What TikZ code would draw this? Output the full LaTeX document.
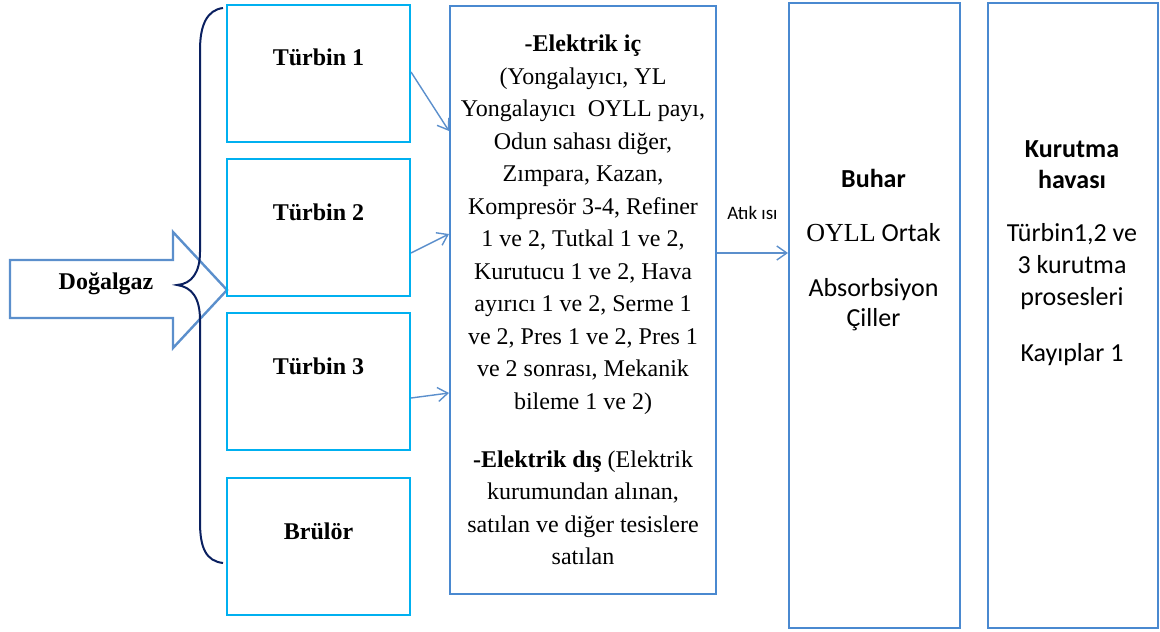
\documentclass[tikz,border=0pt]{standalone}
\usepackage{fontspec}
\setmainfont{Liberation Serif}
\setsansfont{Carlito}
\usepackage{tikz}
\usetikzlibrary{positioning,arrows.meta}
\definecolor{turcolor}{HTML}{00B0F0}
\definecolor{boxcolor}{HTML}{4A89D0}
\definecolor{flowcolor}{HTML}{5B8FCC}
\definecolor{bracecolor}{HTML}{0A2060}

\begin{document}
\begin{tikzpicture}[x=0.5pt, y=-0.5pt,
			>={Straight Barb[length=5pt,width=7pt]},
			turbine/.style={rectangle, draw=turcolor, line width=1pt, minimum width=91.5pt, minimum height=68.5pt, inner sep=0pt, text height=30.5pt, text depth=38pt, font=\bfseries\fontsize{12}{14}\selectfont},
			tallbox/.style={rectangle, draw=boxcolor, line width=1pt, inner sep=0pt, anchor=north west},
			boxtext/.style={anchor=north, inner sep=0pt, align=center, font=\sffamily\fontsize{13}{16}\selectfont},
			flow/.style={->, draw=flowcolor, line width=0.7pt}
		]
		\useasboundingbox (0,0) rectangle (1160,631);

		% dogalgaz arrow
		\draw[flowcolor, line width=1.2pt] (10,260) -- (173,260) -- (173,232) -- (227,290) -- (173,348) -- (173,318) -- (10,318) -- cycle;
		\node[font=\bfseries\fontsize{12}{14}\selectfont] (gaz) at (106,284) {Doğalgaz};

		% brace
		\draw[bracecolor, line width=1pt] (223,8) .. controls (207,10) and (200,25) .. (200,50) -- (200,252) .. controls (200,272) and (192,284) .. (177,285) .. controls (192,287) and (200,298) .. (200,320) -- (200,522) .. controls (200,548) and (206,561) .. (223,563);

		\node[turbine] (t1) at (318.5,73.5) {Türbin 1};
		\node[turbine] (t2) [below=7.5pt of t1] {Türbin 2};
		\node[turbine] (t3) [below=7.5pt of t2] {Türbin 3};
		\node[turbine] (t4) [below=13pt of t3] {Brülör};

		\node[tallbox, minimum width=133pt, minimum height=294pt, align=center, font=\fontsize{12}{16.25}\selectfont] (elec) at (449,5) {\textbf{-Elektrik iç}\\
			(Yongalayıcı, YL\\
			Yongalayıcı\ \ OYLL payı,\\
			Odun sahası diğer,\\
			Zımpara, Kazan,\\
			Kompresör 3-4, Refiner\\
			1 ve 2, Tutkal 1 ve 2,\\
			Kurutucu 1 ve 2, Hava\\
			ayırıcı 1 ve 2, Serme 1\\
			ve 2, Pres 1 ve 2, Pres 1\\
			ve 2 sonrası, Mekanik\\
			bileme 1 ve 2)\\[12.75pt]
			\textbf{-Elektrik dış} (Elektrik\\
			kurumundan alınan,\\
			satılan ve diğer tesislere\\
			satılan};

		\node[tallbox, minimum width=85.5pt, minimum height=312.5pt] (buhar) at (788,2) {};
		\node[tallbox, minimum width=85pt, minimum height=312.5pt] (kurutma) at (987,2) {};
		\node[boxtext] (buhartxt) at (873.5,168.5) {\textbf{Buhar}\\[11pt]{\rmfamily OYLL} Ortak\\[11.5pt]Absorbsiyon\\[-1pt]Çiller};
		\node[boxtext] (kurutmatxt) at (1072,140) {\textbf{Kurutma}\\[-0.5pt]\textbf{havası}\\[10.5pt]Türbin1,2 ve\\3 kurutma\\prosesleri\\[12pt]Kayıplar 1};

		\draw[flow] ([yshift=0.75pt]t1.east) -- ([yshift=84.5pt]elec.west);
		\draw[flow] ([yshift=-12.75pt]t2.east) -- ([yshift=33pt]elec.west);
		\draw[flow] ([yshift=-8.25pt]t3.east) -- ([yshift=-46.5pt]elec.west);
		\draw[flow] ([yshift=23.5pt]elec.east) -- node[midway, above=13pt, font=\sffamily\fontsize{9.5}{11}\selectfont] (atik) {Atık\ ısı} ([yshift=31.25pt]buhar.west);
\end{tikzpicture}
\end{document}
